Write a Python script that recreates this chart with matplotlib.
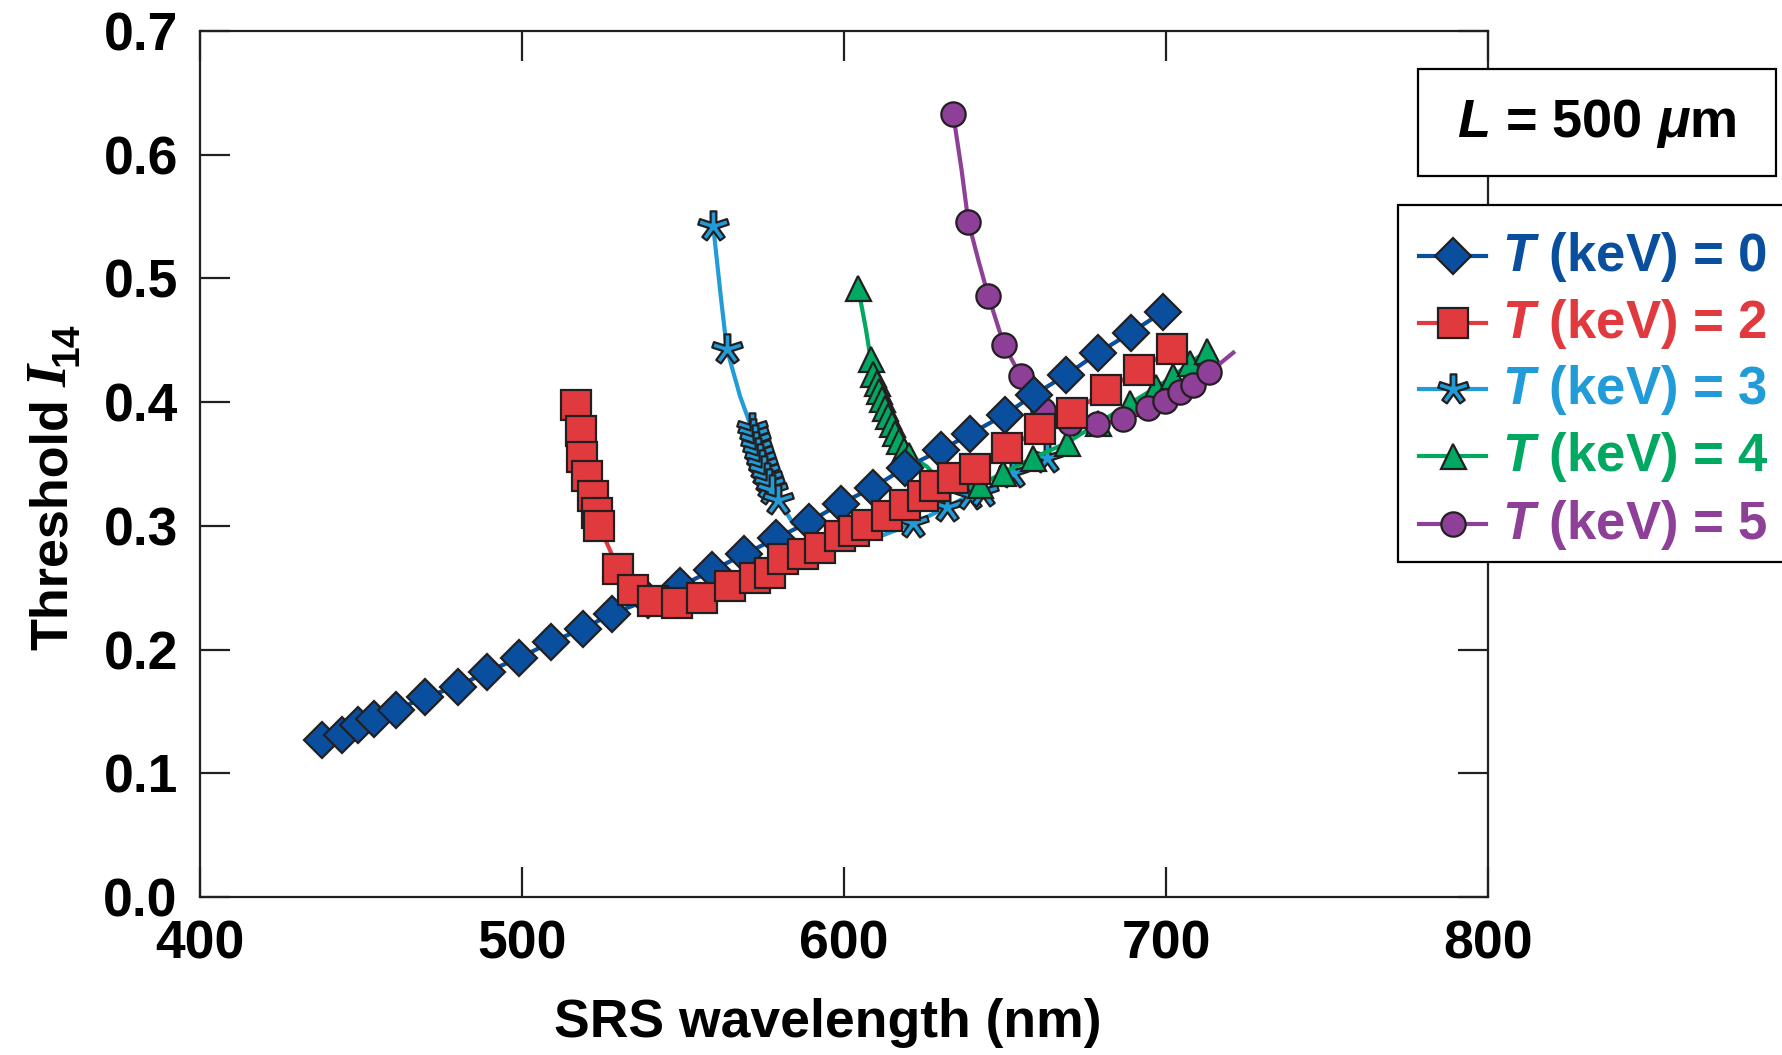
import numpy as np
import matplotlib
matplotlib.use("Agg")
import matplotlib.pyplot as plt
from matplotlib.path import Path
from matplotlib.patches import Rectangle
from matplotlib.lines import Line2D

plt.rcParams['font.family'] = ['Liberation Sans', 'DejaVu Sans']
plt.rcParams['font.weight'] = 'bold'
plt.rcParams['mathtext.fontset'] = 'custom'
plt.rcParams['mathtext.rm'] = 'Liberation Sans:bold'
plt.rcParams['mathtext.bf'] = 'Liberation Sans:bold'
plt.rcParams['mathtext.it'] = 'Liberation Serif:italic:bold'
plt.rcParams['mathtext.bfit'] = 'Liberation Sans:italic:bold'

# T = 0 keV (diamonds)
t0_x = [438, 444, 449, 454, 461, 470, 480, 489, 499, 509, 519, 528, 539, 549, 559,
        569, 579, 589, 599, 609, 619, 630, 639, 650, 659, 669, 679, 689, 699]
t0_y = [0.127, 0.131, 0.139, 0.144, 0.151, 0.162, 0.170, 0.182, 0.193, 0.206, 0.217,
        0.229, 0.240, 0.251, 0.264, 0.277, 0.290, 0.303, 0.318, 0.331, 0.347, 0.361,
        0.374, 0.390, 0.406, 0.422, 0.440, 0.456, 0.473]

# T = 2 keV (squares)
t2_x = [516.7, 518.2, 518.5, 520.1, 522.2, 523.2, 524.0, 529.9, 534.6, 540.8, 548.0,
        556.0, 564.6, 572.4, 577.0, 581.2, 587.4, 592.5, 598.8, 603.0, 607.0, 613.3,
        619.0, 624.6, 628.3, 634.0, 640.7, 650.7, 660.9, 670.7, 681.5, 691.6, 701.8]
t2_y = [0.398, 0.377, 0.356, 0.340, 0.324, 0.310, 0.300, 0.265, 0.248, 0.239, 0.238,
        0.242, 0.251, 0.258, 0.262, 0.273, 0.277, 0.282, 0.292, 0.296, 0.301, 0.308,
        0.317, 0.324, 0.332, 0.339, 0.346, 0.363, 0.378, 0.391, 0.410, 0.426, 0.443]

# T = 3 keV (stars)
t3_x = [559.4, 563.6, 571.3, 571.8, 572.3, 572.8, 573.4, 574.0, 574.6, 575.3, 576.0,
        576.8, 577.6, 579.6, 621.5, 632.0, 639.1, 643.2, 652.6, 663.0]
t3_y = [0.542, 0.443, 0.379, 0.374, 0.369, 0.364, 0.359, 0.354, 0.349, 0.344, 0.339,
        0.334, 0.329, 0.321, 0.302, 0.315, 0.325, 0.327, 0.343, 0.355]
t3_line_x = [561.5, 567.7, 584.2, 592.0, 600.0, 611.2]
t3_line_y = [0.491, 0.405, 0.302, 0.293, 0.289, 0.2915]

# T = 4 keV (triangles)
t4_x = [604.4, 608.3, 609.1, 610.2, 611.0, 611.7, 612.7, 613.8, 614.8, 615.8, 617.2,
        618.6, 620.3, 642.2, 649.5, 658.8, 669.1, 679.0, 688.8, 697.0, 702.3, 707.5, 712.6]
t4_y = [0.4926, 0.4346, 0.4224, 0.4157, 0.4089, 0.4022, 0.3955, 0.3887, 0.3820, 0.3752,
        0.3685, 0.3617, 0.357, 0.333, 0.343, 0.355, 0.367, 0.383, 0.399, 0.412, 0.421,
        0.432, 0.441]
t4_line_x = [606.8, 625.7, 630.0, 635.0]
t4_line_y = [0.459, 0.348, 0.336, 0.330]

# T = 5 keV (circles)
t5_x = [633.9, 638.6, 644.8, 649.7, 654.9, 661.8, 670.2, 678.5, 686.7, 694.5, 699.7,
        704.3, 708.5, 713.4]
t5_y = [0.633, 0.546, 0.486, 0.446, 0.421, 0.394, 0.383, 0.382, 0.386, 0.395, 0.401,
        0.408, 0.414, 0.424]
t5_line_x = [636.5, 641.7, 720.9]
t5_line_y = [0.588, 0.515, 0.440]

labels = ['0', '2', '3', '4', '5']
colors = ['#0a4f9e', '#e03a3f', '#229cd8', '#00a862', '#8e3f97']
edge = '#231f20'

W, H = 1782, 1055


def fx(px):
    return px / W


def fy(py):
    return 1 - py / H


def asterisk(n=5, w=0.19):
    verts = []
    for k in range(n):
        th = np.pi / 2 + 2 * np.pi * k / n
        u = np.array([np.cos(th), np.sin(th)])
        p = np.array([-np.sin(th), np.cos(th)])
        verts.append(u - p * w)
        verts.append(u + p * w)
        b = th + np.pi / n
        r = w / np.sin(np.pi / n)
        verts.append([r * np.cos(b), r * np.sin(b)])
    verts.append(verts[0])
    return Path(np.array(verts), closed=True)


def merged(mx, my, lx, ly):
    x = np.array(list(mx) + list(lx))
    y = np.array(list(my) + list(ly))
    o = np.argsort(x)
    return x[o], y[o]


fig = plt.figure(figsize=(W / 100, H / 100), dpi=100)
ax = fig.add_axes([fx(200), fy(897), 1288 / W, 866 / H])

markers = {0: ('D', 18.5), 1: ('s', 21), 2: (asterisk(), 22), 3: ('^', 18), 4: ('o', 17.5)}
series = [
    (t3_x, t3_y, t3_line_x, t3_line_y, 2),
    (t4_x, t4_y, t4_line_x, t4_line_y, 3),
    (t5_x, t5_y, t5_line_x, t5_line_y, 4),
    (t0_x, t0_y, [], [], 0),
    (t2_x, t2_y, [], [], 1),
]
for mx, my, lx, ly, i in series:
    x, y = merged(mx, my, lx, ly)
    mk, ms = markers[i]
    ax.plot(x, y, '-', color=colors[i], lw=3)
    ax.plot(mx, my, ls='none', marker=mk, ms=ms, mfc=colors[i], mec=edge, mew=1.6)

ax.set_xlim(400, 800)
ax.set_ylim(0, 0.7)
ax.set_xticks([400, 500, 600, 700, 800])
ax.set_yticks(np.arange(0, 0.71, 0.1))
ax.set_yticklabels(['%.1f' % v for v in np.arange(0, 0.71, 0.1)])
ax.tick_params(direction='in', length=21.5, width=1.6, color=edge, labelsize=38.5,
               pad=16, top=True, right=True)
for t in ax.get_xticklabels() + ax.get_yticklabels():
    t.set_fontweight('bold')
for s in ax.spines.values():
    s.set_linewidth(1.6)
    s.set_color(edge)

fig.text(fx(828), fy(1037), 'SRS wavelength (nm)', fontsize=38.5,
         fontweight='bold', ha='center', va='baseline')

# y label built from pieces (bigger serif I and subscript)
renderer = fig.canvas.get_renderer()
base_x = 67
y0 = 650
t1 = fig.text(fx(base_x), fy(y0), 'Threshold', fontsize=37.5, fontweight='bold',
              rotation=90, rotation_mode='anchor', ha='left', va='baseline')
y1 = y0 - t1.get_window_extent(renderer).height - 11
t2 = fig.text(fx(base_x), fy(y1), 'I', fontsize=41, fontweight='bold', style='italic',
              family='Liberation Serif', rotation=90, rotation_mode='anchor',
              ha='left', va='baseline')
y2 = y1 - t2.get_window_extent(renderer).height + 1
fig.text(fx(base_x + 11), fy(y2), '14', fontsize=28, fontweight='bold',
         rotation=90, rotation_mode='anchor', ha='left', va='baseline')

# L box
fig.patches.append(Rectangle((fx(1418), fy(176)), 358 / W, 107 / H,
                             transform=fig.transFigure, facecolor='white',
                             edgecolor='black', lw=1.6, zorder=3))
fig.text(fx(1597), fy(137), r'$\mathbfit{L}$ = 500 $\mathbfit{\mu}$m',
         fontsize=39, fontweight='bold', ha='center', va='baseline', zorder=4)

# legend box drawn by hand
fig.patches.append(Rectangle((fx(1398), fy(562)), 400 / W, 357 / H,
                             transform=fig.transFigure, facecolor='white',
                             edgecolor='black', lw=1.6, zorder=3))
row_y = [256, 323, 389, 456, 524]
for i, ry in enumerate(row_y):
    mk, ms = markers[i]
    fig.add_artist(Line2D([fx(1419), fx(1486)], [fy(ry), fy(ry)], color=colors[i], lw=3,
                          transform=fig.transFigure, zorder=4))
    fig.add_artist(Line2D([fx(1453)], [fy(ry)], ls='none', marker=mk, ms=ms,
                          mfc=colors[i], mec=edge, mew=1.6,
                          transform=fig.transFigure, zorder=5))
    fig.text(fx(1502), fy(ry + 15), r'$\mathbfit{T}$ (keV) = ' + labels[i], fontsize=38,
             fontweight='bold', color=colors[i], ha='left', va='baseline', zorder=5)

fig.savefig('out.png', dpi=100)
